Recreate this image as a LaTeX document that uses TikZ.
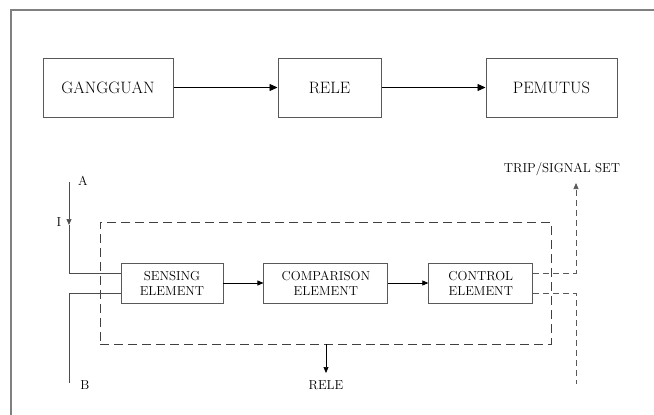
\documentclass[tikz,border=0pt]{standalone}
\usepackage{fontspec}
\usetikzlibrary{arrows.meta}
\usetikzlibrary{positioning}
\newcommand{\bigtxt}{\fontsize{16.5}{19}\selectfont}
\newcommand{\smalltxt}{\fontsize{13}{15}\selectfont}

\begin{document}
\begin{tikzpicture}[x=1pt,y=-1pt,
    topbox/.style={draw=black!65,line width=1pt,minimum height=59pt,inner sep=0pt,font=\bigtxt},
    elembox/.style={draw=black!65,line width=0.9pt,minimum height=40pt,inner sep=0pt,align=center,font=\smalltxt},
    flow/.style={-{Triangle[length=8pt,width=7pt]},line width=0.8pt},
    smallflow/.style={-{Triangle[length=6pt,width=5pt]},line width=0.7pt},
    wire/.style={draw=black!70,line width=0.9pt},
    dashbox/.style={draw=black!75,line width=0.9pt,dash pattern=on 9pt off 5pt},
    dashline/.style={draw=black!65,line width=0.9pt,dash pattern=on 6pt off 4pt},
    lbl/.style={inner sep=1pt,font=\smalltxt}]
  \useasboundingbox (0,0) rectangle (654,415);
  % outer frame
  \draw[draw=black!50,line width=1.3pt] (11,415) -- (11,10) -- (654,10);

  % upper chain
  \node[topbox,minimum width=130pt] (fault) at (108,87.5) {GANGGUAN};
  \node[topbox,minimum width=103pt,right=104pt of fault] (relay) {RELE};
  \node[topbox,minimum width=131pt,right=104pt of relay] (breaker) {PEMUTUS};
  \draw[flow] (fault) -- (relay);
  \draw[flow] (relay) -- (breaker);

  % relay block
  \node[dashbox,minimum width=451pt,minimum height=122pt] (relbox) at (325.5,283) {};
  \node[elembox,minimum width=102pt] (sense) at (172,283) {SENSING\\ELEMENT};
  \node[elembox,minimum width=124pt,right=40pt of sense] (compare) {COMPARISON\\ELEMENT};
  \node[elembox,minimum width=104pt,right=40pt of compare] (ctrl) {CONTROL\\ELEMENT};
  \draw[smallflow] (sense) -- (compare);
  \draw[smallflow] (compare) -- (ctrl);

  % input lines
  \node[lbl] (lbl-a) at (83,181) {A};
  \node[lbl] (lbl-i) at (59,222) {I};
  \node[lbl] (lbl-b) at (85,385) {B};
  \coordinate (a-top) at (69,182);
  \coordinate (i-tip) at (69,225);
  \coordinate (b-end) at (69,383);
  \draw[wire,smallflow] (a-top) -- (i-tip);
  \draw[wire] (i-tip) |- ([yshift=10pt]sense.west);
  \draw[wire] ([yshift=-10pt]sense.west) -| (b-end);

  % outputs
  \node[lbl] (lbl-rele) at (326,385) {RELE};
  \coordinate (rele-tip) at (326,373);
  \draw[smallflow] (relbox.south -| rele-tip) -- (rele-tip);
  \node[lbl] (lbl-trip) at (562,169) {TRIP/SIGNAL SET};
  \coordinate (trip-tip) at (576,183);
  \coordinate (out-end) at (576,384);
  \draw[dashline,smallflow] ([yshift=10pt]ctrl.east) -| (trip-tip);
  \draw[dashline] ([yshift=-10pt]ctrl.east) -| (out-end);
\end{tikzpicture}
\end{document}
